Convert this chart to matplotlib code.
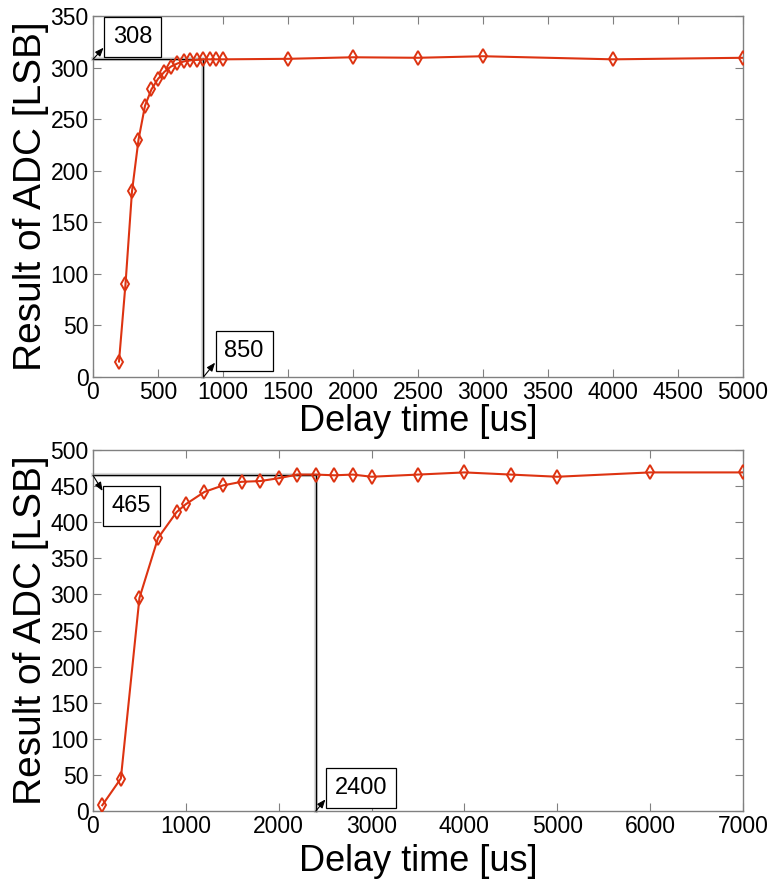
import matplotlib
matplotlib.use("Agg")
import matplotlib.pyplot as plt

plt.rcParams['font.family'] = ['Liberation Sans', 'DejaVu Sans']

# top panel: 308 LSB settles at 850 us
t1 = [200, 250, 300, 350, 400, 450, 500, 550, 600, 650, 700, 750, 800,
      850, 900, 950, 1000, 1500, 2000, 2500, 3000, 4000, 5000]
adc1 = [15, 90, 180, 230, 263, 279, 289, 296, 301, 304, 306, 307, 307.5,
        308, 308, 308, 308, 308.5, 310, 309.5, 311, 308, 309.5]
level1, settle1 = 308, 850
xticks1 = list(range(0, 5001, 500))
yticks1 = list(range(0, 351, 50))

# bottom panel: 465 LSB settles at 2400 us
t2 = [100, 300, 500, 700, 900, 1000, 1200, 1400, 1600, 1800, 2000, 2200,
      2400, 2600, 2800, 3000, 3500, 4000, 4500, 5000, 6000, 7000]
adc2 = [8, 45, 295, 378, 414, 425, 442, 451, 456, 457, 461, 466,
        466, 465, 466, 463, 466, 469, 466, 463, 469, 469]
level2, settle2 = 465, 2400
xticks2 = list(range(0, 7001, 1000))
yticks2 = list(range(0, 501, 50))

RED = '#dd3311'
GRAY = '#808080'

fig = plt.figure(figsize=(7.73, 8.8), dpi=100)
ax1 = fig.add_axes([0.1203, 0.5716, 0.8409, 0.4102])
ax2 = fig.add_axes([0.1203, 0.0784, 0.8409, 0.4102])


def panel(ax, t, adc, level, settle, xticks, yticks, off_level, off_settle,
          xpad):
    ax.plot(t, adc, '-', color=RED, lw=1.5, marker='d', markersize=7.5,
            markerfacecolor='none', markeredgecolor=RED, markeredgewidth=1.4,
            zorder=3)
    ax.set_xlim(xticks[0], xticks[-1])
    ax.set_ylim(yticks[0], yticks[-1])
    ax.set_xticks(xticks)
    ax.set_yticks(yticks)
    # guide lines to the settling point
    for lw, c in [(3, '#dcdcdc'), (1, 'black')]:
        ax.plot([0, settle], [level, level], color=c, lw=lw, zorder=2,
                clip_on=False)
        ax.plot([settle, settle], [0, level], color=c, lw=lw, zorder=2,
                clip_on=False)
    box = dict(boxstyle='square,pad=0.38', fc='white', ec='black', lw=0.9)
    arrow = dict(arrowstyle='<|-,head_length=0.3,head_width=0.12',
                 color='black', lw=0.8, relpos=(0, 0.5),
                 shrinkA=0, shrinkB=0)
    ax.annotate(str(level), xy=(0, level), xytext=off_level,
                textcoords='offset pixels', ha='left', va='center',
                fontsize=17, bbox=box, arrowprops=arrow, zorder=5)
    ax.annotate(str(settle), xy=(settle, 0), xytext=off_settle,
                textcoords='offset pixels', ha='left', va='center',
                fontsize=17, bbox=box, arrowprops=arrow, zorder=5)
    ax.set_xlabel('Delay time [us]', fontsize=26, labelpad=xpad)
    ax.set_ylabel('Result of ADC [LSB]', fontsize=28, labelpad=1)
    ax.tick_params(direction='in', top=True, right=True, length=6,
                   color=GRAY, labelsize=16.5, pad=3)
    for s in ax.spines.values():
        s.set_color(GRAY)
        s.set_linewidth(1)


panel(ax1, t1, adc1, level1, settle1, xticks1, yticks1, (20, 22), (21, 26),
      0)
panel(ax2, t2, adc2, level2, settle2, xticks2, yticks2, (19, -31), (19, 23),
      4)

fig.savefig('out.png', dpi=100)
